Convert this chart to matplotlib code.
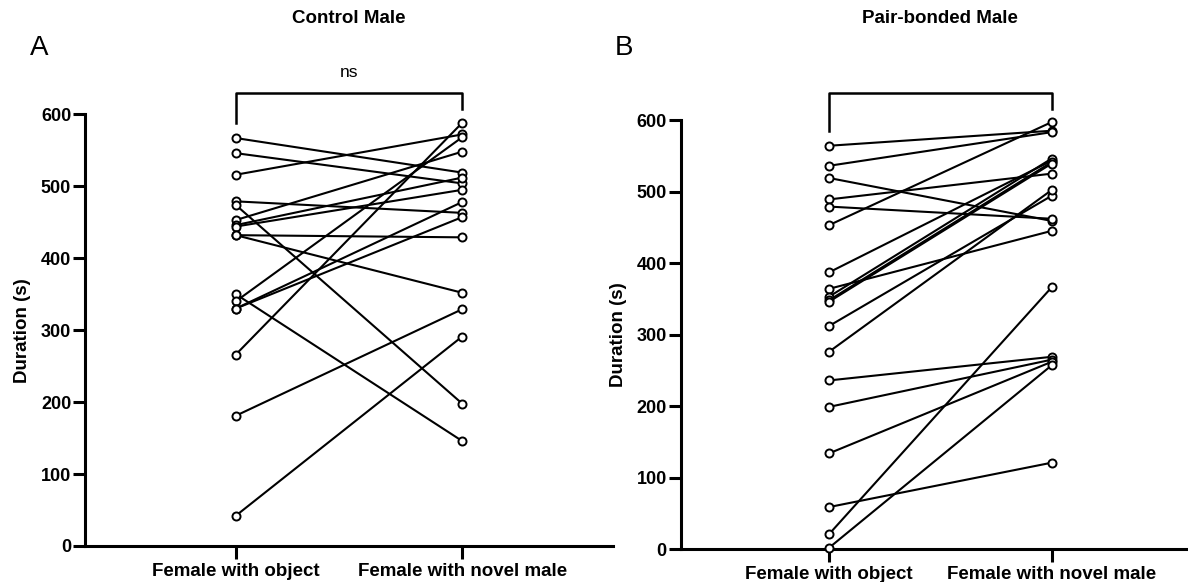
import matplotlib
matplotlib.use("Agg")
import matplotlib.pyplot as plt

plt.rcParams['font.family'] = ['Liberation Sans', 'DejaVu Sans']

categories = ["Female with object", "Female with novel male"]

# Control Male: duration per subject, object vs novel male
ctrl_object = [567, 546, 516, 479, 474, 453, 446, 444, 432, 432, 350, 340, 330, 330, 266, 181, 42]
ctrl_novel  = [519, 504, 572, 463, 198, 548, 512, 495, 429, 352, 146, 568, 478, 457, 588, 329, 291]

# Pair-bonded Male
pb_object = [564, 536, 519, 489, 479, 453, 387, 364, 353, 348, 346, 312, 276, 236, 199, 134, 59, 21, 2]
pb_novel  = [585, 583, 459, 525, 462, 597, 543, 445, 546, 541, 539, 494, 502, 269, 265, 262, 121, 366, 257]

yticks = [0, 100, 200, 300, 400, 500, 600]

fig = plt.figure(figsize=(11.88, 5.82), dpi=100)

def panel(rect, before, after, title, letter, letter_x, bracket, sig):
    ax = fig.add_axes(rect)
    for a, b in zip(before, after):
        ax.plot([0, 1], [a, b], color='black', lw=1.5, marker='o', ms=5.8,
                mfc='white', mec='black', mew=1.4, clip_on=False, zorder=3)
    ax.set_xlim(-0.666, 1.667)
    ax.set_ylim(0, 600)
    ax.set_yticks(yticks)
    ax.set_xticks([0, 1])
    ax.set_xticklabels(categories, fontsize=13.5, fontweight='bold')
    ax.set_yticklabels([str(v) for v in yticks], fontsize=13, fontweight='bold')
    for s in ['top', 'right']:
        ax.spines[s].set_visible(False)
    for s in ['left', 'bottom']:
        ax.spines[s].set_linewidth(2.2)
    ax.tick_params(axis='both', width=2.2, length=9)
    ax.tick_params(axis='y', pad=1)
    ax.tick_params(axis='x', pad=3)
    ax.set_ylabel("Duration (s)", fontsize=13.5, fontweight='bold', labelpad=7)
    # significance bracket
    top, left_end, right_end = bracket
    ax.plot([0, 0, 1, 1], [left_end, top, top, right_end], color='black',
            lw=1.8, clip_on=False)
    if sig:
        ax.text(0.5, top + 18, sig, ha='center', va='bottom', fontsize=12.5)
    # title centred over the two categories
    tx = ax.transData.transform((0.5, 0))[0] / fig.bbox.width
    fig.text(tx, 0.968, title, ha='center', va='center', fontsize=13.5, fontweight='bold')
    fig.text(letter_x, 0.918, letter, ha='center', va='center', fontsize=20)
    return ax

panel([0.0716, 0.0619, 0.4444, 0.7417], ctrl_object, ctrl_novel,
      "Control Male", "A", 0.0334, (629, 588, 608), "ns")
panel([0.573, 0.0562, 0.4371, 0.7376], pb_object, pb_novel,
      "Pair-bonded Male", "B", 0.5255, (638, 585, 616), "")

fig.savefig("out.png", dpi=100)
